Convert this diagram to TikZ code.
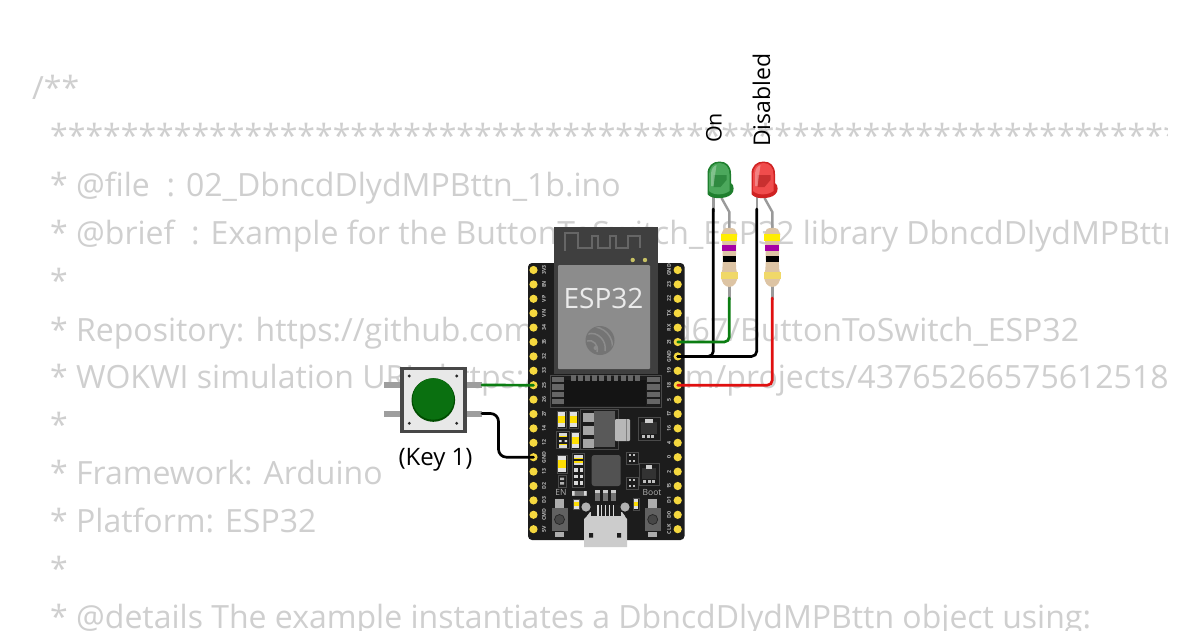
\documentclass[tikz,border=0pt]{standalone}
\usepackage{fontspec}
\setmainfont{Open Sans}
\definecolor{bgtext}{HTML}{CFCFCF}
\definecolor{pcb}{HTML}{1C1C1C}
\definecolor{pinyel}{HTML}{F5D83F}
\definecolor{modgray}{HTML}{3F3F3F}
\definecolor{cangray}{HTML}{8C8C8C}
\definecolor{logogray}{HTML}{747474}
\definecolor{outl}{HTML}{4A4A4A}
\definecolor{wgreen}{HTML}{0B7D12}
\definecolor{wred}{HTML}{E01010}
\definecolor{resbody}{HTML}{DDC4A4}
\definecolor{lead}{HTML}{9A9A9A}
\definecolor{gold}{HTML}{F0D868}
\definecolor{ledgmain}{HTML}{4CA85C}
\definecolor{ledgdark}{HTML}{1F7F2E}
\definecolor{ledgpatch}{HTML}{2F8A40}
\definecolor{ledrmain}{HTML}{F04C4C}
\definecolor{ledrdark}{HTML}{CF2222}
\definecolor{ledrpatch}{HTML}{C93030}
\tikzset{
  codeline/.style={anchor=base west,inner sep=0pt,text=bgtext,font=\fontsize{32}{38}\selectfont},
  wire/.style={line width=2.7pt,rounded corners=5pt,line cap=round},
  leadline/.style={line width=2.4pt,color=lead},
  lbl/.style={inner sep=0pt,text=black,font=\fontsize{23}{27}\selectfont},
  pinlabel/.style={inner sep=0pt,text=white!75!black,font=\fontsize{5.2}{6}\selectfont\bfseries},
  pinhole/.style={circle,fill=pinyel,inner sep=0pt,minimum size=8.2pt},
  box/.style={draw=outl,line width=0.6pt},
}
\newcommand{\vresist}[4]{% x1 y1 x2 y2
  \fill[white!88!black] (#1,#2) rectangle (#3,#4);
  \fill[yellow!80!orange] (#1,{#2+0.28*(#4-#2)}) rectangle (#3,{#2+0.72*(#4-#2)});
  \draw[outl,line width=0.5pt] ({#1-1},{#2-1}) rectangle ({#3+1},{#4+1});
}
\newcommand{\sotpart}[4]{% x1 y1 x2 y2
  \draw[outl,line width=0.6pt] (#1,#2) rectangle (#3,#4);
  \fill[black!60!gray] ({#1+3},{#2+5}) rectangle ({#3-3},{#4-6});
  \fill[white!80!black] ({#1+7},{#2+2}) rectangle ({#3-7},{#2+6});
  \foreach \k in {0,1,2}{\fill[white!75!black] ({#1+4+\k*4.5},{#4-5}) rectangle ++(3,3);}
}
\newcommand{\minibox}[2]{% x y
  \draw[outl,line width=0.6pt] (#1,#2) rectangle ++(12,12);
  \foreach \k in {0,1}{\fill[white!75!black] ({#1+3},{#2+2+\k*5.5}) rectangle ++(2,2.2);
                       \fill[white!75!black] ({#1+7},{#2+2+\k*5.5}) rectangle ++(2,2.2);}
}
\newcommand{\tact}[2]{% cx cy
  \fill[white!68!black] ({#1-4.6},{#2-20.5}) rectangle ({#1+4.6},{#2-12});
  \fill[white!68!black] ({#1-4.6},{#2+12}) rectangle ({#1+4.6},{#2+17.5});
  \fill[black!62!white] ({#1-8},{#2-12}) rectangle ({#1+8},{#2+11});
  \fill[black!72!white] (#1,#2) circle (5);
  \draw[black!85,line width=0.7pt] (#1,#2) circle (5);
}
\newcommand{\ledbody}[4]{% cx main dark patch
  \fill[#3] ({#1-12},194) -- ({#1-12},174)
     .. controls ({#1-12},166) and ({#1-7},161.5) .. (#1,161.5)
     .. controls ({#1+7},161.5) and ({#1+11.5},166) .. ({#1+11.5},174)
     -- ({#1+11.5},183) .. controls ({#1+15},185) and ({#1+15},192) .. ({#1+11.5},194.5)
     .. controls ({#1+6},199.5) and ({#1-9},199.5) .. ({#1-12},194) -- cycle;
  \fill[#2] ({#1-10.5},191) -- ({#1-10.5},174.5)
     .. controls ({#1-10.5},167.5) and ({#1-6},163) .. (#1,163)
     .. controls ({#1+6},163) and ({#1+10},167.5) .. ({#1+10},174.5)
     -- ({#1+10},191) .. controls ({#1+4},195.5) and ({#1-6},195.5) .. ({#1-10.5},191) -- cycle;
  \fill[#4] ({#1-6},175) -- ({#1+7},175) -- ({#1+7},180) -- ({#1+1},187) -- ({#1-6},187) -- cycle;
  \fill[white,opacity=.3] ({#1-8.5},186) -- ({#1-8.5},174) .. controls ({#1-8.5},169) and ({#1-6},166) .. ({#1-3},165) -- ({#1-6},186) -- cycle;
}
\newcommand{\resistorpart}[1]{% cx
  \fill[resbody] ({#1-5.5},229) .. controls ({#1-3},227.5) and ({#1+3},227.5) .. ({#1+5.5},229)
     -- ({#1+8},234) -- ({#1+7},243) -- ({#1+6.5},262)-- ({#1+7},270) -- ({#1+8.3},275)
     .. controls ({#1+8.3},282) and ({#1+5},287) .. (#1,287)
     .. controls ({#1-5},287) and ({#1-8.3},282) .. ({#1-8.3},275)
     -- ({#1-7},270) -- ({#1-6.5},262) -- ({#1-7},243) -- ({#1-8},234) -- cycle;
  \fill[yellow!95!orange] ({#1-8},234) rectangle ({#1+8},241);
  \fill[violet!70!magenta] ({#1-7},245) rectangle ({#1+7},251);
  \fill[black] ({#1-6.7},256) rectangle ({#1+6.7},262);
  \fill[gold] ({#1-8.3},272) rectangle ({#1+8.3},279);
}
\begin{document}
\begin{tikzpicture}[x=1pt,y=-1pt]
\useasboundingbox (0,0) rectangle (1200,630);
\fill[white] (0,0) rectangle (1200,630);
% background code text
\begin{scope}
\clip (0,0) rectangle (1167,630);
\node[codeline] (c1) at (32,99) {/**};
\node[codeline] (c2) at (50,147) {********************************************************************************};
\node[codeline] (c3) at (50,196) {* @file\ \ : 02\_DbncdDlydMPBttn\_1b.ino};
\node[codeline] (c4) at (50,244) {* @brief\ \ : Example for the ButtonToSwitch\_ESP32 library DbncdDlydMPBttn class};
\node[codeline] (c5) at (50,292) {*};
\node[codeline] (c6) at (50,341) {* Repository: https://github.com/GabyGold67/ButtonToSwitch\_ESP32};
\node[codeline] (c7) at (50,388) {* WOKWI simulation URL: https://wokwi.com/projects/437652665756125185};
\node[codeline] (c8) at (50,436) {*};
\node[codeline] (c9) at (50,484) {* Framework: Arduino};
\node[codeline] (c10) at (50,532) {* Platform: ESP32};
\node[codeline] (c11) at (50,580) {*};
\node[codeline] (c12) at (50,628) {* @details The example instantiates a DbncdDlydMPBttn object using:};
\end{scope}
% ESP32 board
\fill[pcb,rounded corners=4pt] (528,263) rectangle (684.5,540);
% antenna + module
\fill[modgray] (554,227) rectangle (657.5,374);
\draw[black!60!white,line width=1.1pt] (565,251) -- (565,233) -- (578,233) -- (578,248) -- (592,248) -- (592,236) -- (598,236) -- (598,248) -- (610,248) -- (610,236) -- (616,236) -- (616,248) -- (628,248) -- (628,236) -- (640,236) -- (640,248);
\fill[yellow!50!gray] (632.7,260) circle (2.2) (645,260) circle (2.2);
\fill[cangray,rounded corners=1pt] (558,265) rectangle (650,369);
\node[inner sep=0pt,text=white!92!black,font=\fontsize{28}{34}\selectfont] (esplabel) at (603.5,298.5) {ESP32};
% logo
\fill[logogray] (600,340.5) circle (14.5);
\begin{scope}
\clip (600,340.5) circle (13.5);
\draw[cangray,line width=1.5pt] (588,334) .. controls (598,331) and (607,341) .. (605,351);
\draw[cangray,line width=1.5pt] (590,327) .. controls (604,325) and (615,338) .. (612,350);
\draw[cangray,line width=1.5pt] (587,341) .. controls (593,339) and (599,345) .. (597,352);
\end{scope}
\fill[cangray] (595.5,348) circle (2);
% module pads
\draw[outl,line width=0.6pt] (550.5,375) rectangle (661,407);
\fill[pcb!70!black] (564,380) rectangle (646,406);
\foreach \k in {0,...,9}{\fill[black!60!white] ({571+\k*7.1},375) rectangle ++(4.8,5.5);}
\foreach \k in {0,...,3}{
  \fill[black!60!white] (552,{377+\k*7.4}) rectangle ++(12,5.2);
  \fill[black!60!white] (647,{377+\k*7.4}) rectangle ++(12.5,5.2);}
% pins
\foreach \i/\t in {0/3V3,1/EN,2/VP,3/VN,4/34,5/35,6/32,7/33,8/25,9/26,10/27,11/14,12/12,13/GND,14/13,15/D2,16/D3,17/CMD,18/5V}{
  \node[pinhole] (L\i) at (533.5,{270+14.4*\i}) {};
  \node[pinlabel,rotate=90] (LT\i) at (544,{270+14.4*\i}) {\t};
}
\foreach \i/\t in {0/GND,1/23,2/22,3/TX,4/RX,5/21,6/GND,7/19,8/18,9/5,10/17,11/16,12/4,13/0,14/2,15/15,16/D1,17/D0,18/CLK}{
  \node[pinhole] (R\i) at (677.7,{270+14.4*\i}) {};
  \node[pinlabel,rotate=90] (RT\i) at (669,{270+14.4*\i}) {\t};
}
% smd parts
\vresist{558}{412}{565}{427}
\vresist{570}{412}{577}{427}
\vresist{572}{433}{579}{448}
\vresist{558}{456}{566}{472}
\draw[outl,line width=0.6pt] (556.5,431) rectangle (569,448.5);
\fill[white!85!black] (559,433) rectangle (567,436);
\fill[yellow!80!orange] (559,436) rectangle (567,437);
\fill[white!85!black] (559,440) rectangle (561.5,442) (564.5,440) rectangle (567,442);
\fill[yellow!80!orange] (559,444) rectangle (567,445);
\fill[white!85!black] (559,445) rectangle (567,447.5);
\draw[outl,line width=0.6pt] (558,475) rectangle (566,487);
\fill[white!70!black] (560,477.5) rectangle (564,480) (560,482) rectangle (564,484.5);
% regulator
\draw[outl,line width=0.6pt] (580,409) rectangle (618,449);
\fill[black!65!white] (594,411) rectangle (615,447);
\foreach \yy in {412.5,425.5,438.5}{\fill[white!65!black] (582.5,\yy) rectangle ++(11,9);}
\fill[white!72!black,rounded corners=1pt] (615,419) rectangle (630,441);
\draw[black!50,line width=0.5pt] (626.5,419) -- (626.5,441);
\sotpart{638}{417}{660}{440}
\sotpart{639}{463}{659}{485}
\minibox{626}{452}
\minibox{626}{477}
% resistor array
\draw[outl,line width=0.6pt] (572,453) rectangle (584.5,487);
\fill[white!85!black] (574,455) rectangle (583,457.5);
\fill[yellow!80!orange] (574,457.5) rectangle (583,459);
\fill[yellow!80!orange] (574,461) rectangle (583,462.5);
\fill[white!85!black] (574,462.5) rectangle (583,465);
\foreach \k in {0,1,2}\foreach \xx in {574,579.5}{\fill[white!85!black] (\xx,{468+\k*6.5}) rectangle ++(3.5,3.5);}
% MCU
\fill[black!68!white,rounded corners=2.5pt] (591.7,455) rectangle (620.7,486);
% small parts
\fill[black!55!white] (572,491) rectangle (586.5,495.5);
\fill[white!85!black] (572,491) rectangle (574.5,495.5) (584,491) rectangle (586.5,495.5);
\vresist{574}{500}{578.5}{508.5}
\vresist{634}{499}{638}{509}
\foreach \xx in {595,603,611}{
  \fill[black!55!white] (\xx,490) rectangle ++(5,11);
  \fill[white!80!black] (\xx,490) rectangle ++(5,2.5);}
\node[inner sep=0pt,text=white!70!black,font=\fontsize{8.5}{10}\selectfont] (enlabel) at (561,492.5) {EN};
\node[inner sep=0pt,text=white!70!black,font=\fontsize{8.5}{10}\selectfont] (bootlabel) at (652,492.5) {Boot};
\tact{559.5}{519.5}
\tact{652.7}{519.5}
% USB
\fill[white!80!black] (590,512) -- (590,513) -- (584,519) -- (584,547) -- (627,547) -- (627,519) -- (622,513) -- (622,512) -- cycle;
\fill[black!88] (591,505) rectangle (621,517);
\foreach \k in {0,...,4}{\fill[white!85!black] ({597+\k*3.9},505) rectangle ++(1.5,11.5);}
\fill[white!70!black] (586,507) circle (4.6) (625,507) circle (4.6);
\fill[white!80!black] (590,512) -- (590,516) -- (622,516) -- (622,512) -- (625,516) -- (625,522) -- (587,522) -- (587,516) -- cycle;
\fill[pcb] (589,533) rectangle ++(4,4.5) (617,533) rectangle ++(4,4.5);
% pushbutton
\foreach \yy in {382,411}{
  \fill[white!62!black] (384,\yy) rectangle (400,{\yy+6});
  \fill[white!62!black] (466.7,\yy) rectangle (482,{\yy+6});}
\coordinate (btnR1) at (482,385);
\coordinate (btnR2) at (482,413.5);
\node[draw=black!72,line width=3.6pt,fill=white!91!black,minimum width=63pt,minimum height=63pt,inner sep=0pt,outer sep=0pt] (pushbtn) at (433.3,400) {};
\fill[black!85] (409.3,376) circle (1.6) (456.7,376) circle (1.6) (409.3,423.3) circle (1.6) (456.7,423.3) circle (1.6);
\fill[green!30!black] (433.3,400) circle (21.8);
\fill[wgreen!90!black] (433.3,399) circle (20.7);
\node[lbl,font=\fontsize{24}{28}\selectfont] (key) at (435.5,460) {(Key 1)};
% LEDs
\draw[leadline] (713.3,196) -- (713.3,212);
\draw[leadline] (756.7,196) -- (756.7,212);
\draw[leadline] (721.5,198) -- (729.3,212) -- (729.3,232);
\draw[leadline] (764.5,198) -- (772.3,212) -- (772.3,232);
\ledbody{719.5}{ledgmain}{ledgdark}{ledgpatch}
\ledbody{763.5}{ledrmain}{ledrdark}{ledrpatch}
\draw[leadline] (729.3,285) -- (729.3,300);
\draw[leadline] (772.3,285) -- (772.3,300);
\resistorpart{729.3}
\resistorpart{772.3}
\coordinate (g1) at (729.3,298);
\coordinate (g2) at (772.3,298);
\coordinate (c1a) at (713.3,209);
\coordinate (c2a) at (756.7,209);
\node[lbl,rotate=90,anchor=west,font=\fontsize{21.5}{26}\selectfont] (onl) at (714,143) {On};
\node[lbl,rotate=90,anchor=west] (disl) at (761.5,147) {Disabled};
% wires
\draw[wire,black] (c1a) |- (R6.center);
\draw[wire,black] (c2a) |- (R6.center);
\draw[wire,wgreen] (g1) |- (R5.center);
\draw[wire,wred] (g2) |- (R8.center);
\draw[wire,wgreen] (btnR1) -- (L8.center);
\draw[wire,black,rounded corners=8pt] (btnR2) -- (498.5,413.5) -- (498.5,457.2) -- (L13.center);
\end{tikzpicture}
\end{document}
